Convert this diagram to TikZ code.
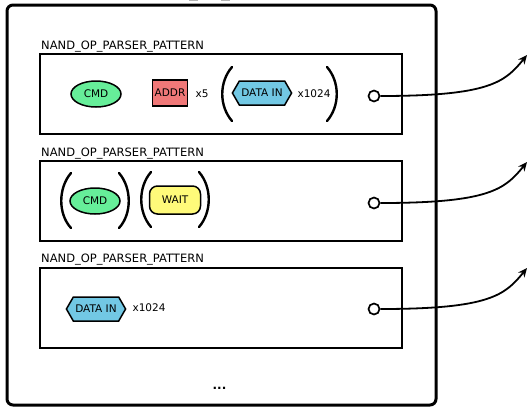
\documentclass[tikz,border=0pt]{standalone}
\usepackage{fontspec}
\setmainfont{DejaVu Sans}
\usetikzlibrary{arrows.meta,shapes.geometric,shapes.symbols}

\definecolor{cmdgreen}{HTML}{66EE99}
\definecolor{addrred}{HTML}{F07878}
\definecolor{datablue}{HTML}{72C8E4}
\definecolor{waityellow}{HTML}{FFFA7A}

\begin{document}
\begin{tikzpicture}[x=1bp,y=-1bp,
  lbl/.style={font=\fontsize{11.5bp}{13bp}\selectfont, anchor=base west, inner sep=0pt},
  txt/.style={font=\fontsize{10.5bp}{12bp}\selectfont, inner sep=0pt},
  itm/.style={txt, draw, line width=1.5bp, inner sep=1bp},
  cmdnode/.style={itm, ellipse, fill=cmdgreen, minimum width=50bp, minimum height=26bp},
  addrnode/.style={itm, rectangle, fill=addrred, minimum width=35bp, minimum height=26bp},
  datanode/.style={itm, signal, signal to=east and west, signal pointer angle=120,
    fill=datablue, minimum height=24bp, inner xsep=2bp},
  waitnode/.style={itm, rectangle, rounded corners=8bp, fill=waityellow,
    minimum width=51bp, minimum height=28bp},
  patbox/.style={draw, line width=1.8bp, minimum width=362bp, minimum height=80bp, inner sep=0pt},
  frame/.style={draw, line width=3bp, rounded corners=6bp},
  paren/.style={line width=2.4bp, line cap=round},
  port/.style={draw, circle, line width=1.7bp, fill=white, minimum size=11bp, inner sep=0pt},
  link/.style={line width=1.8bp, -{Stealth[length=9bp,width=8bp]}},
]
\useasboundingbox (0,0) rectangle (528,407);

% remnants of a heading above
\draw[gray!60, line width=1bp] (189,0.5) -- (198,0.5);
\draw[gray!60, line width=1bp] (221,0.5) -- (230,0.5);

% outer container
\draw[frame] (7,5) rectangle (436,405);

% ---- pattern 1
\node[lbl] (l1) at (41,49) {NAND\_OP\_PARSER\_PATTERN};
\node[patbox] (p1) at (221,94) {};
\node[cmdnode] (cmd1) at (96,94) {CMD};
\node[addrnode] (addr1) at (170,93) {ADDR};
\node[txt] (r1) at (202,94) {x5};
\draw[paren] (232,67) .. controls (219,82) and (219,106) .. (232,121);
\node[datanode] (data1) at (262,93) {DATA IN};
\node[txt] (r2) at (314,94) {x1024};
\draw[paren] (327,67) .. controls (340,82) and (340,106) .. (327,121);
\node[port] (c1) at (374,96) {};
\coordinate (t1) at (527,55);

% ---- pattern 2
\node[lbl] (l2) at (41,156) {NAND\_OP\_PARSER\_PATTERN};
\node[patbox] (p2) at (221,201) {};
\draw[paren] (71,173) .. controls (58,188) and (58,214) .. (71,228);
\node[cmdnode] (cmd2) at (95,201) {CMD};
\draw[paren] (119,173) .. controls (132,188) and (132,214) .. (119,228);
\draw[paren] (151,172) .. controls (138,187) and (138,212) .. (151,227);
\node[waitnode] (wait2) at (175,200) {WAIT};
\draw[paren] (199,172) .. controls (212,187) and (212,212) .. (199,227);
\node[port] (c2) at (374,203) {};
\coordinate (t2) at (527,162);

% ---- pattern 3
\node[lbl] (l3) at (41,262) {NAND\_OP\_PARSER\_PATTERN};
\node[patbox] (p3) at (221,308) {};
\node[datanode] (data3) at (96,309) {DATA IN};
\node[txt] (r3) at (149,308) {x1024};
\node[port] (c3) at (374,309) {};
\coordinate (t3) at (527,268);

% more patterns follow
\node[txt, font=\fontsize{12bp}{14bp}\selectfont\bfseries, anchor=base] (more) at (219.5,389) {...};

% outputs
\draw[link] (c1.east) .. controls (490,96) and (505,82) .. (t1);
\draw[link] (c2.east) .. controls (490,203) and (505,189) .. (t2);
\draw[link] (c3.east) .. controls (490,309) and (505,295) .. (t3);
\end{tikzpicture}
\end{document}
